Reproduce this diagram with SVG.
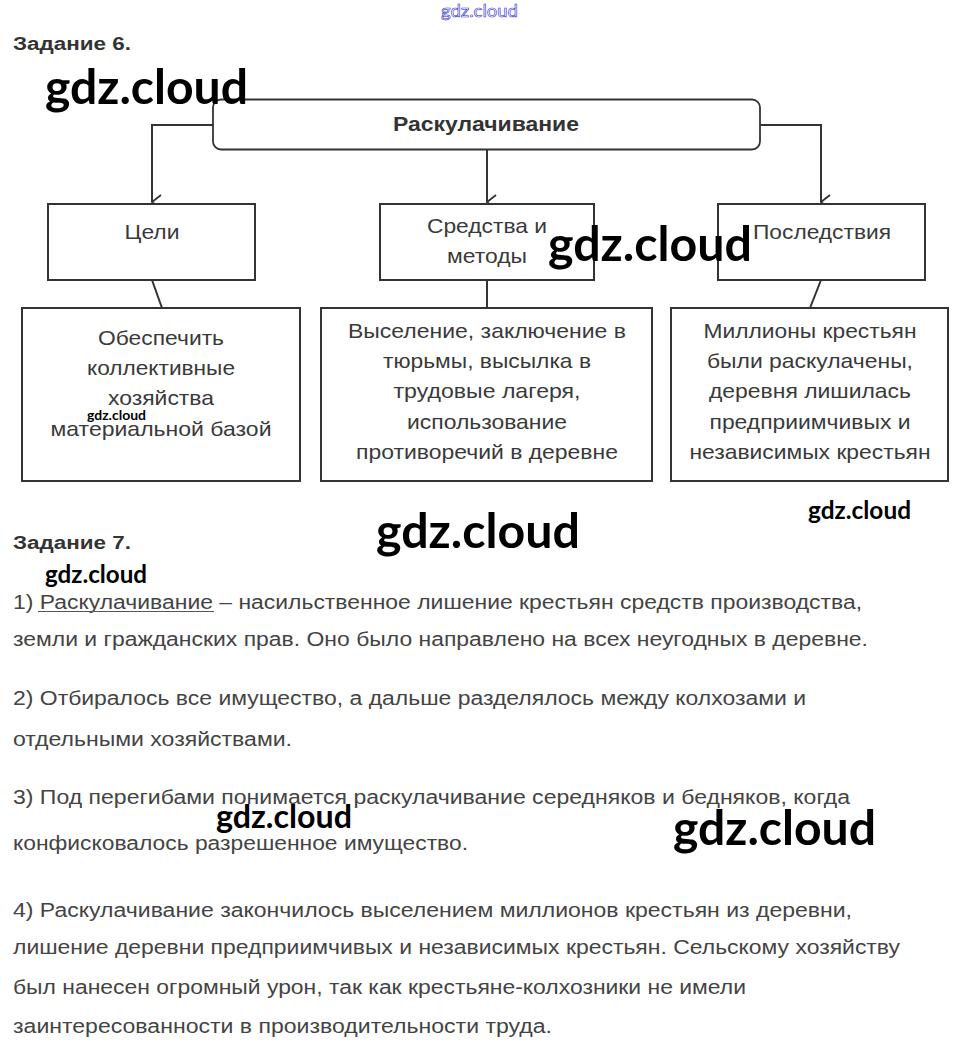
<svg xmlns="http://www.w3.org/2000/svg" width="958" height="1050" viewBox="0 0 958 1050">
<style>
.bx{fill:#fff;stroke:#333;stroke-width:2}
.tb{fill:#fff;stroke:#333;stroke-width:1.8}
.ln{fill:none;stroke:#333;stroke-width:2}
.t{font-family:"Liberation Sans",Arial,sans-serif;font-size:21px;fill:#3a3a3a;text-anchor:middle}
.p{font-family:"Liberation Sans",Arial,sans-serif;font-size:20px;fill:#444}
.h{font-family:"Liberation Sans",Arial,sans-serif;font-size:18px;font-weight:bold;fill:#333}
.w{font-family:Lato,"Open Sans",sans-serif;font-weight:bold;fill:#000}
</style>
<defs>
<marker id="ar" markerWidth="16" markerHeight="12" refX="8" refY="10" orient="auto" markerUnits="userSpaceOnUse" viewBox="0 0 16 12">
<path d="M1,1 L8,10 L15,1" fill="none" stroke="#333" stroke-width="1.8"/>
</marker>
</defs>
<rect width="958" height="1050" fill="#fff"/>
<text x="441" y="17" textLength="77" lengthAdjust="spacingAndGlyphs" style="font-family:Lato,sans-serif;font-size:18px;fill:#fff;stroke:#2a2ad0;stroke-width:0.6">gdz.cloud</text>
<text x="13" y="50" class="h" textLength="118" lengthAdjust="spacingAndGlyphs">Задание 6.</text>

<g id="connectors">
<path class="ln" d="M213,125 H152 V202" marker-end="url(#ar)"/>
<path class="ln" d="M487,150 V202" marker-end="url(#ar)"/>
<path class="ln" d="M760,125 H821 V202" marker-end="url(#ar)"/>
<path class="ln" d="M152,280 L162,308"/>
<path class="ln" d="M487,280 V308"/>
<path class="ln" d="M821,280 L810,308"/>
</g>

<g id="root">
<rect class="tb" x="213" y="99.5" width="547" height="50" rx="8"/>
<text x="393" y="131" class="h" style="font-size:20px" textLength="186" lengthAdjust="spacingAndGlyphs">Раскулачивание</text>
</g>

<g id="goals">
<rect class="bx" x="48" y="204" width="207" height="76"/>
<text class="t" x="152" y="239" textLength="55" lengthAdjust="spacingAndGlyphs">Цели</text>
</g>
<g id="means">
<rect class="bx" x="380" y="204" width="214" height="76"/>
<text class="t" x="487" y="233" textLength="120" lengthAdjust="spacingAndGlyphs">Средства и</text>
<text class="t" x="487" y="263" textLength="80" lengthAdjust="spacingAndGlyphs">методы</text>
</g>
<g id="results">
<rect class="bx" x="718" y="204" width="207" height="76"/>
<text class="t" x="822" y="239" textLength="138" lengthAdjust="spacingAndGlyphs">Последствия</text>
</g>

<g id="goals-detail">
<rect class="bx" x="22" y="308" width="278" height="173"/>
<text class="t" x="161" y="345" textLength="126" lengthAdjust="spacingAndGlyphs">Обеспечить</text>
<text class="t" x="161" y="375" textLength="148" lengthAdjust="spacingAndGlyphs">коллективные</text>
<text class="t" x="161" y="405" textLength="106" lengthAdjust="spacingAndGlyphs">хозяйства</text>
<text class="t" x="161" y="436" textLength="221" lengthAdjust="spacingAndGlyphs">материальной базой</text>
</g>
<g id="means-detail">
<rect class="bx" x="321" y="308" width="331" height="173"/>
<text class="t" x="487" y="338" textLength="278" lengthAdjust="spacingAndGlyphs">Выселение, заключение в</text>
<text class="t" x="487" y="368" textLength="208" lengthAdjust="spacingAndGlyphs">тюрьмы, высылка в</text>
<text class="t" x="487" y="398" textLength="187" lengthAdjust="spacingAndGlyphs">трудовые лагеря,</text>
<text class="t" x="487" y="429" textLength="160" lengthAdjust="spacingAndGlyphs">использование</text>
<text class="t" x="487" y="459" textLength="262" lengthAdjust="spacingAndGlyphs">противоречий в деревне</text>
</g>
<g id="results-detail">
<rect class="bx" x="671" y="308" width="277" height="173"/>
<text class="t" x="810" y="338" textLength="213" lengthAdjust="spacingAndGlyphs">Миллионы крестьян</text>
<text class="t" x="810" y="368" textLength="206" lengthAdjust="spacingAndGlyphs">были раскулачены,</text>
<text class="t" x="810" y="398" textLength="202" lengthAdjust="spacingAndGlyphs">деревня лишилась</text>
<text class="t" x="810" y="429" textLength="201" lengthAdjust="spacingAndGlyphs">предприимчивых и</text>
<text class="t" x="810" y="459" textLength="241" lengthAdjust="spacingAndGlyphs">независимых крестьян</text>
</g>

<text x="13" y="549" class="h" textLength="118" lengthAdjust="spacingAndGlyphs">Задание 7.</text>

<g id="task7">
<text class="p" x="13" y="609" textLength="849" lengthAdjust="spacingAndGlyphs">1) Раскулачивание – насильственное лишение крестьян средств производства,</text>
<line x1="38" y1="611.5" x2="214" y2="611.5" stroke="#555" stroke-width="1.2"/>
<text class="p" x="13" y="646" textLength="855" lengthAdjust="spacingAndGlyphs">земли и гражданских прав. Оно было направлено на всех неугодных в деревне.</text>
<text class="p" x="13" y="705" textLength="793" lengthAdjust="spacingAndGlyphs">2) Отбиралось все имущество, а дальше разделялось между колхозами и</text>
<text class="p" x="13" y="746" textLength="279" lengthAdjust="spacingAndGlyphs">отдельными хозяйствами.</text>
<text class="p" x="13" y="804" textLength="837" lengthAdjust="spacingAndGlyphs">3) Под перегибами понимается раскулачивание середняков и бедняков, когда</text>
<text class="p" x="13" y="850" textLength="455" lengthAdjust="spacingAndGlyphs">конфисковалось разрешенное имущество.</text>
<text class="p" x="13" y="917" textLength="839" lengthAdjust="spacingAndGlyphs">4) Раскулачивание закончилось выселением миллионов крестьян из деревни,</text>
<text class="p" x="13" y="954" textLength="887" lengthAdjust="spacingAndGlyphs">лишение деревни предприимчивых и независимых крестьян. Сельскому хозяйству</text>
<text class="p" x="13" y="994" textLength="733" lengthAdjust="spacingAndGlyphs">был нанесен огромный урон, так как крестьяне-колхозники не имели</text>
<text class="p" x="13" y="1033" textLength="539" lengthAdjust="spacingAndGlyphs">заинтересованности в производительности труда.</text>
</g>

<g id="watermarks">
<text class="w" x="45" y="104" style="font-size:48px" textLength="203" lengthAdjust="spacingAndGlyphs">gdz.cloud</text>
<text class="w" x="548" y="261" style="font-size:48px" textLength="204" lengthAdjust="spacingAndGlyphs">gdz.cloud</text>
<text class="w" x="87" y="420" style="font-size:14px" textLength="59" lengthAdjust="spacingAndGlyphs">gdz.cloud</text>
<text class="w" x="808" y="519" style="font-size:25px" textLength="103" lengthAdjust="spacingAndGlyphs">gdz.cloud</text>
<text class="w" x="376" y="548" style="font-size:48px" textLength="204" lengthAdjust="spacingAndGlyphs">gdz.cloud</text>
<text class="w" x="45" y="583" style="font-size:25px" textLength="102" lengthAdjust="spacingAndGlyphs">gdz.cloud</text>
<text class="w" x="216" y="828" style="font-size:32px" textLength="136" lengthAdjust="spacingAndGlyphs">gdz.cloud</text>
<text class="w" x="673" y="845" style="font-size:48px" textLength="203" lengthAdjust="spacingAndGlyphs">gdz.cloud</text>
</g>
</svg>
